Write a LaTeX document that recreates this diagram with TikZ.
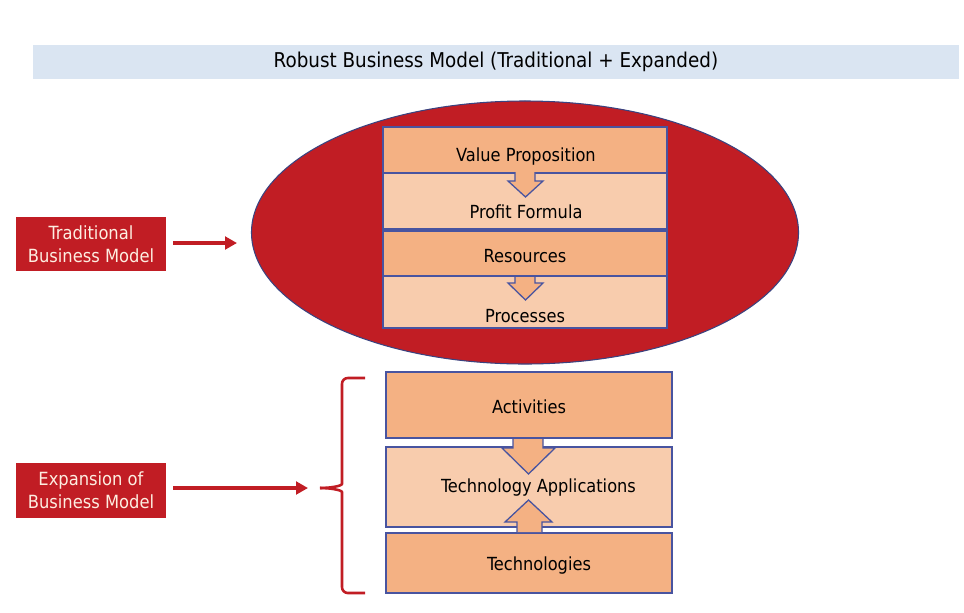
\documentclass[tikz,border=0pt]{standalone}
\usepackage{fontspec}
\setmainfont{DejaVu Sans Condensed}
\usepackage{xcolor}
\usepackage{tikz}
\usetikzlibrary{arrows.meta,positioning,calc,shapes.geometric}
\definecolor{titleblue}{RGB}{218,229,242}
\definecolor{bmred}{RGB}{193,29,36}
\definecolor{darkorange}{RGB}{244,177,131}
\definecolor{lightorange}{RGB}{248,204,173}
\definecolor{edgeblue}{RGB}{72,84,160}
\definecolor{labelcream}{RGB}{253,238,225}
\tikzset{
  titlebar/.style={rectangle, fill=titleblue, inner sep=0pt, minimum width=27.78cm, minimum height=1.02cm},
  titletext/.style={font=\fontsize{17.4}{20}\selectfont},
  stepdark/.style={rectangle, draw=edgeblue, line width=1.1pt, fill=darkorange, inner sep=0pt},
  steplight/.style={rectangle, draw=edgeblue, line width=1.1pt, fill=lightorange, inner sep=0pt},
  boxtext/.style={font=\fontsize{15.4}{18}\selectfont, inner sep=0pt},
  sidebox/.style={rectangle, fill=bmred, text=labelcream, align=center, inner sep=0pt,
    minimum width=4.5cm, minimum height=1.63cm, font=\fontsize{15.5}{19.5}\selectfont},
  redarrow/.style={-{Triangle[length=3.6mm,width=3.8mm]}, line width=2.8pt, bmred},
  blockarrow/.style={fill=darkorange, draw=edgeblue, line width=1.1pt, line join=miter}
}
\begin{document}
\begin{tikzpicture}[x=0.03cm,y=-0.03cm]
  \useasboundingbox (0,0) rectangle (964,612);
  % title
  \node[titlebar] (title) at (496,62) {};
  \node[titletext] (titlelbl) at (496,62) {Robust Business Model (Traditional + Expanded)};

  % traditional model
  \node[ellipse, fill=bmred, draw=edgeblue!80!black, line width=0.9pt, minimum width=16.41cm, minimum height=7.89cm] (oval) at (525,232.5) {};
  \node[stepdark, minimum width=8.52cm, minimum height=1.38cm] (vp) at (525,150) {};
  \node[steplight, minimum width=8.52cm, minimum height=1.68cm] (pf) at (525,201) {};
  \node[stepdark, minimum width=8.52cm, minimum height=1.35cm] (res) at (525,253.5) {};
  \node[steplight, minimum width=8.52cm, minimum height=1.56cm] (proc) at (525,302) {};
  \path[blockarrow] (515,172) -- (515,181) -- (508,181) -- (525.5,197) -- (543,181) -- (535,181) -- (535,172);
  \path[blockarrow] (515,277) -- (515,283) -- (508,283) -- (525.5,300) -- (543,283) -- (535,283) -- (535,277);
  \node[boxtext] (vplbl) at (526,157) {Value Proposition};
  \node[boxtext] (pflbl) at (526,212) {Profit Formula};
  \node[boxtext] (reslbl) at (525,256) {Resources};
  \node[boxtext] (proclbl) at (525,316) {Processes};

  % expansion
  \node[stepdark, minimum width=8.58cm, minimum height=1.98cm] (act) at (529,405) {};
  \node[steplight, minimum width=8.58cm, minimum height=2.40cm] (tapp) at (529,487) {};
  \node[stepdark, minimum width=8.58cm, minimum height=1.80cm] (tech) at (529,563) {};
  \path[blockarrow] (513,439) -- (513,448) -- (502,448) -- (528.5,474) -- (555,448) -- (543,448) -- (543,439);
  \path[blockarrow] (517,532) -- (517,522) -- (505,522) -- (528.5,500) -- (552,522) -- (542,522) -- (542,532);
  \node[boxtext] (actlbl) at (529,407) {Activities};
  \node[boxtext] (tapplbl) at (538.5,488) {Technology Applications};
  \node[boxtext] (techlbl) at (539,566) {Technologies};

  % brace
  \coordinate (bracetop) at (365,378);
  \coordinate (bracebot) at (365,593);
  \coordinate (bracetip) at (320,488);
  \draw[bmred, line width=2.2pt, rounded corners=5] (bracetop) -- (342,378) -- (342,478)
    .. controls (342,486) and (330,488) .. (bracetip);
  \draw[bmred, line width=2.2pt, rounded corners=5] (bracebot) -- (342,593) -- (342,498)
    .. controls (342,490) and (330,488) .. (bracetip);

  % side labels
  \node[sidebox] (tradbox) at (91,244) {Traditional\\Business Model};
  \node[sidebox] (expbox) at (91,490.5) {Expansion of\\Business Model};
  \coordinate (tradend) at (237,243);
  \coordinate (expend) at (308,488);
  \draw[redarrow] (tradbox.east|-tradend) ++(7,0) -- (tradend);
  \draw[redarrow] (expbox.east|-expend) ++(7,0) -- (expend);
\end{tikzpicture}
\end{document}
